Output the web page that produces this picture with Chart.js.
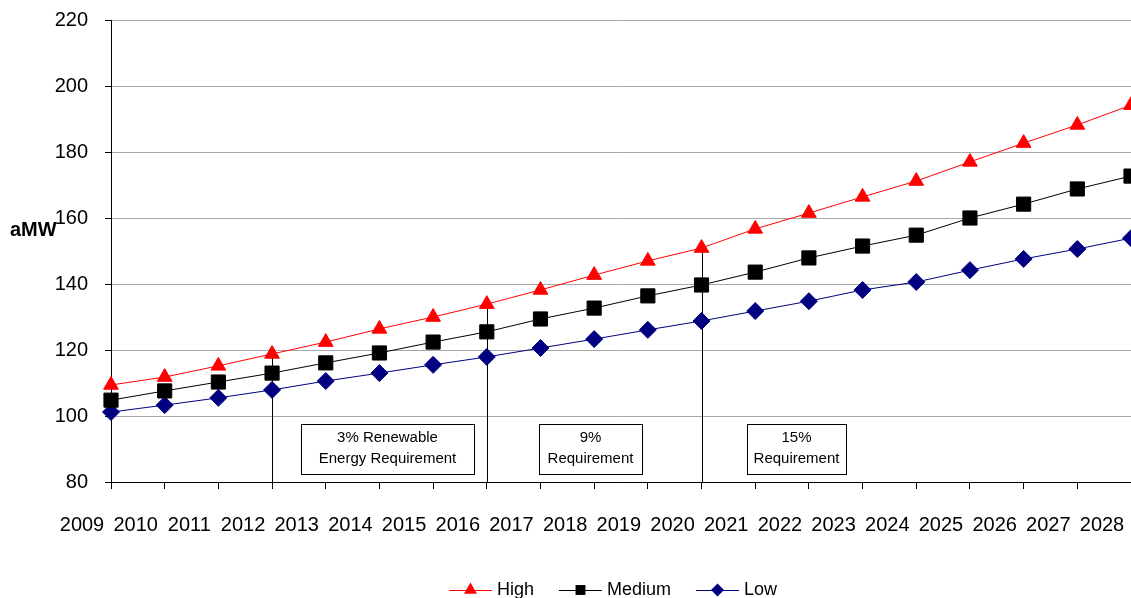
<!DOCTYPE html>
<html>
<head>
<meta charset="utf-8">
<title>Load forecast</title>
<script src="https://cdn.jsdelivr.net/npm/chart.js@4.4.1/dist/chart.umd.min.js"></script>
<style>
  html, body { margin: 0; padding: 0; background: #fff; }
  canvas { display: block; }
</style>
</head>
<body>
<canvas id="loadChart" width="1131" height="598"></canvas>
<script>
const FONT = "'Liberation Sans', Arial, Helvetica, sans-serif";

// forecast years and load (aMW) per scenario
const years = ["2009", "2010", "2011", "2012", "2013", "2014", "2015", "2016", "2017", "2018",
               "2019", "2020", "2021", "2022", "2023", "2024", "2025", "2026", "2027", "2028"];
const highLoad   = [109.4, 111.8, 115.2, 118.8, 122.4, 126.4, 130.0, 133.9, 138.2, 142.7,
                    147.0, 150.9, 156.7, 161.5, 166.4, 171.2, 177.0, 182.7, 188.2, 194.2];
const mediumLoad = [104.8, 107.6, 110.3, 113.0, 116.1, 119.1, 122.4, 125.5, 129.4, 132.7,
                    136.4, 139.7, 143.6, 147.9, 151.5, 154.8, 160.0, 164.2, 168.8, 172.7];
const lowLoad    = [101.2, 103.3, 105.5, 107.9, 110.6, 113.0, 115.5, 117.9, 120.6, 123.3,
                    126.1, 128.8, 131.8, 134.8, 138.2, 140.6, 144.2, 147.6, 150.6, 153.9];

// renewable requirement milestones
const requirementYears  = ["2012", "2016", "2020"];
const requirementLabels = [["3% Renewable", "Energy Requirement"], ["9%", "Requirement"], ["15%", "Requirement"]];

const yMin = 80, yMax = 220, yStep = 20;

function drawMarker(ctx, style, x, y, r, color) {
  ctx.save();
  ctx.fillStyle = color;
  ctx.beginPath();
  if (style === 'triangle') {
    const h = r * Math.sqrt(3) / 2;
    ctx.moveTo(x, y - r);
    ctx.lineTo(x + h, y + r / 2);
    ctx.lineTo(x - h, y + r / 2);
  } else if (style === 'rect') {
    const s = r * Math.SQRT1_2;
    ctx.rect(x - s, y - s, 2 * s, 2 * s);
  } else {
    ctx.moveTo(x, y - r);
    ctx.lineTo(x + r, y);
    ctx.lineTo(x, y + r);
    ctx.lineTo(x - r, y);
  }
  ctx.closePath();
  ctx.fill();
  ctx.restore();
}

// boxes under the milestone lines (left, right, top, bottom in px)
const boxRects = [[301, 474, 424, 474], [539, 642, 424, 474], [747, 846, 424, 474]];

const notesPlugin = {
  id: 'notes',
  beforeDatasetsDraw(chart) {
    const { ctx, scales: { x, y }, chartArea } = chart;
    ctx.save();
    // milestone lines from the axis up to the high case
    ctx.strokeStyle = '#000';
    ctx.lineWidth = 1;
    requirementYears.forEach(yr => {
      const i = years.indexOf(yr);
      const px = Math.round(x.getPixelForValue(i)) + 0.5;
      ctx.beginPath();
      ctx.moveTo(px, chartArea.bottom);
      ctx.lineTo(px, y.getPixelForValue(highLoad[i]));
      ctx.stroke();
    });
    // requirement boxes
    ctx.font = '15px ' + FONT;
    ctx.textAlign = 'center';
    ctx.textBaseline = 'middle';
    requirementLabels.forEach((lines, k) => {
      const [l, r, t, b] = boxRects[k];
      ctx.fillStyle = '#fff';
      ctx.fillRect(l, t, r - l, b - t);
      ctx.strokeStyle = '#000';
      ctx.strokeRect(l + 0.5, t + 0.5, r - l, b - t);
      ctx.fillStyle = '#000';
      lines.forEach((txt, j) => ctx.fillText(txt, (l + r) / 2, t + 14 + j * 21));
    });
    ctx.restore();
  },
  afterDraw(chart) {
    const { ctx } = chart;
    ctx.save();
    // axis title
    ctx.font = 'bold 20px ' + FONT;
    ctx.fillStyle = '#000';
    ctx.textAlign = 'left';
    ctx.textBaseline = 'middle';
    ctx.fillText('aMW', 10, 230);

    // legend: line with marker, then series name
    const items = chart.data.datasets.map(ds => ({
      text: ds.label, color: ds.borderColor, style: ds.pointStyle, r: ds.legendRadius
    }));
    ctx.font = '18px ' + FONT;
    const lineW = 43, gapText = 5, gapItem = 25;
    let total = 0;
    items.forEach((it, i) => {
      it.w = lineW + gapText + ctx.measureText(it.text).width;
      total += it.w + (i ? gapItem : 0);
    });
    let cx = 613 - total / 2;
    const ly = 590;
    items.forEach(it => {
      ctx.strokeStyle = it.color;
      ctx.lineWidth = 1;
      ctx.beginPath();
      ctx.moveTo(cx, ly + 0.5);
      ctx.lineTo(cx + lineW, ly + 0.5);
      ctx.stroke();
      drawMarker(ctx, it.style, cx + lineW / 2, ly, it.r, it.color);
      ctx.fillStyle = '#000';
      ctx.fillText(it.text, cx + lineW + gapText, ly);
      cx += it.w + gapItem;
    });
    ctx.restore();
  }
};

function series(label, data, color, style, radius, legendRadius) {
  return {
    label, data,
    borderColor: color,
    backgroundColor: color,
    pointBackgroundColor: color,
    pointBorderColor: color,
    borderWidth: 1,
    pointBorderWidth: 1,
    pointStyle: style,
    pointRadius: radius,
    legendRadius,
    tension: 0
  };
}

new Chart(document.getElementById('loadChart'), {
  type: 'line',
  data: {
    labels: years,
    datasets: [
      series('High', highLoad, '#ff0000', 'triangle', 8.5, 7.5),
      series('Medium', mediumLoad, '#000000', 'rect', 10, 7),
      series('Low', lowLoad, '#000080', 'rectRot', 8.5, 6.5)
    ]
  },
  options: {
    responsive: false,
    animation: false,
    devicePixelRatio: 1,
    layout: { autoPadding: false, padding: { top: 20, right: 0, bottom: 0, left: 0 } },
    plugins: {
      legend: { display: false },
      tooltip: { enabled: false }
    },
    scales: {
      x: {
        grid: { drawOnChartArea: false, tickLength: 7, tickColor: '#000' },
        border: { color: '#000' },
        ticks: {
          color: '#000', font: { family: FONT, size: 20 },
          labelOffset: -29, padding: 24, maxRotation: 0, autoSkip: false
        },
        afterFit(s) { s.height = 116; s.paddingLeft = 0; s.paddingRight = 0; }
      },
      y: {
        min: yMin, max: yMax,
        grid: { color: '#a6a6a6', tickColor: '#000', tickLength: 6 },
        border: { color: '#000' },
        ticks: { stepSize: yStep, padding: 17, color: '#000', font: { family: FONT, size: 20 } },
        afterFit(s) { s.width = 111; s.paddingTop = 0; s.paddingBottom = 0; }
      }
    }
  },
  plugins: [notesPlugin]
});
</script>
</body>
</html>
